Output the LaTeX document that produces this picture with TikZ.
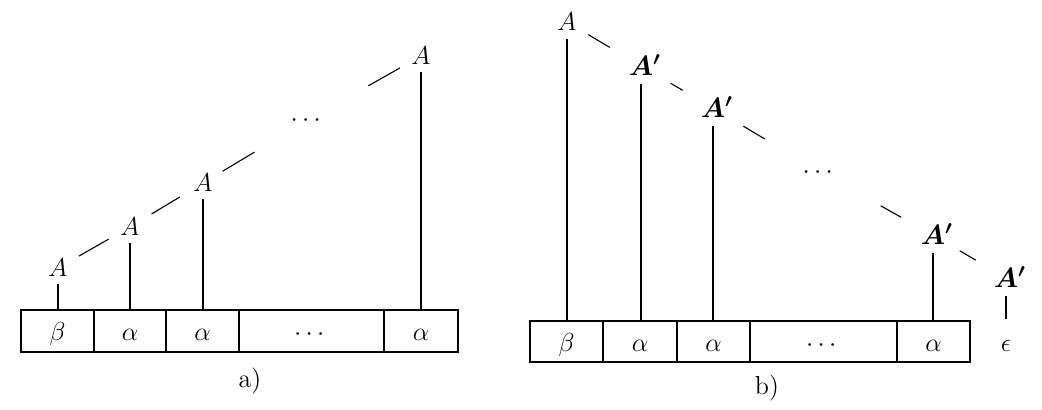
\RequirePackage{fix-cm}
\documentclass[tikz,border=0pt]{standalone}
\usepackage{amsmath,amssymb}
\newcommand{\Apr}{$\boldsymbol{A}$\makebox[0pt][l]{$\boldsymbol{{}^{\prime}}$}}
\begin{document}
\begin{tikzpicture}[x=0.5pt,y=-0.5pt,
  font=\fontsize{13}{16}\selectfont,
  every path/.style={line width=0.55pt},
  letA/.style={inner sep=3.3pt,text height=8.9pt,text depth=0pt},
  letB/.style={inner sep=3.7pt,text height=9.6pt,text depth=0pt,font=\fontsize{14}{17}\selectfont},
  dotn/.style={inner sep=0pt,text height=6.5pt,text depth=0pt},
  cell/.style={draw,inner sep=0pt,minimum height=#1,text height=10pt,text depth=0pt},
  cell/.default=21pt,
  lab/.style={font=\fontsize{13}{15}\selectfont}]
\useasboundingbox (0,0) rectangle (1042,410);
% ---------- panel a ----------
\node[cell,minimum width=36.5pt] (a1) at (57.5,331) {$\beta$};
\node[cell,minimum width=36pt]   (a2) at (130,331) {$\alpha$};
\node[cell,minimum width=36.5pt] (a3) at (202.5,331) {$\alpha$};
\node[cell,minimum width=72.5pt] (a4) at (311.5,331) {$\cdots$};
\node[cell,minimum width=37pt]   (a5) at (421,331) {$\alpha$};
\node[letA] (A1) at (58,268) {$A$};
\node[letA] (A2) at (130,227) {$A$};
\node[letA] (A3) at (203,183) {$A$};
\node[letA] (A4) at (421,56) {$A$};
\node[dotn] (d1) at (308,120) {$\cdots$};
\draw (A1.south) -- (A1.south |- a1.north);
\draw (A2.south) -- (A2.south |- a2.north);
\draw (A3.south) -- (A3.south |- a3.north);
\draw (A4.south) -- (A4.south |- a5.north);
\draw[shorten <=12pt,shorten >=12.3pt] (A1.center) -- (A2.center);
\draw[shorten <=12.6pt,shorten >=13.5pt] (A2.center) -- (A3.center);
\draw[shorten <=11.4pt,shorten >=31.2pt] (A3.center) -- (d1.center);
\draw[shorten <=34.7pt,shorten >=12.1pt] (d1.center) -- (A4.center);
\node[lab] (la) at (250,381) {a)};
% ---------- panel b ----------
\node[cell=20.5pt,minimum width=36.5pt] (b1) at (566.5,341.5) {$\beta$};
\node[cell=20.5pt,minimum width=37pt]   (b2) at (640,341.5) {$\alpha$};
\node[cell=20.5pt,minimum width=36.5pt] (b3) at (713.5,341.5) {$\alpha$};
\node[cell=20.5pt,minimum width=73.5pt] (b4) at (823.5,341.5) {$\cdots$};
\node[cell=20.5pt,minimum width=36.5pt] (b5) at (933.5,341.5) {$\alpha$};
\node[inner sep=0pt,minimum height=21.5pt,text height=10pt,text depth=0pt] (eps) at (1006,341.5) {$\epsilon$};
\node[letA,inner sep=3.8pt] (B0) at (567,22) {$A$};
\node[letB] (B1) at (641,66) {\Apr};
\node[letB] (B2) at (713,108) {\Apr};
\node[dotn] (d2) at (820,172) {$\cdots$};
\node[letB] (B3) at (933,235) {\Apr};
\node[letB] (B4) at (1006,278) {\Apr};
\draw (B0.south) -- (B0.south |- b1.north);
\draw (B1.south) -- (B1.south |- b2.north);
\draw (B2.south) -- (B2.south |- b3.north);
\draw (B3.south) -- (B3.south |- b5.north);
\draw (B4.south) -- (B4.south |- eps.north);
\draw[shorten <=12.35pt,shorten >=18.2pt] (B0.center) -- (B1.center);
\draw[shorten <=17.2pt,shorten >=17.5pt] (B1.center) -- (B2.center);
\draw[shorten <=17.7pt,shorten >=32.2pt] (B2.center) -- (d2.center);
\draw[shorten <=34.7pt,shorten >=18.2pt] (d2.center) -- (B3.center);
\draw[shorten <=15.5pt,shorten >=17.6pt] (B3.center) -- (B4.center);
\node[lab] (lb) at (767,388) {b)};
\end{tikzpicture}
\end{document}
